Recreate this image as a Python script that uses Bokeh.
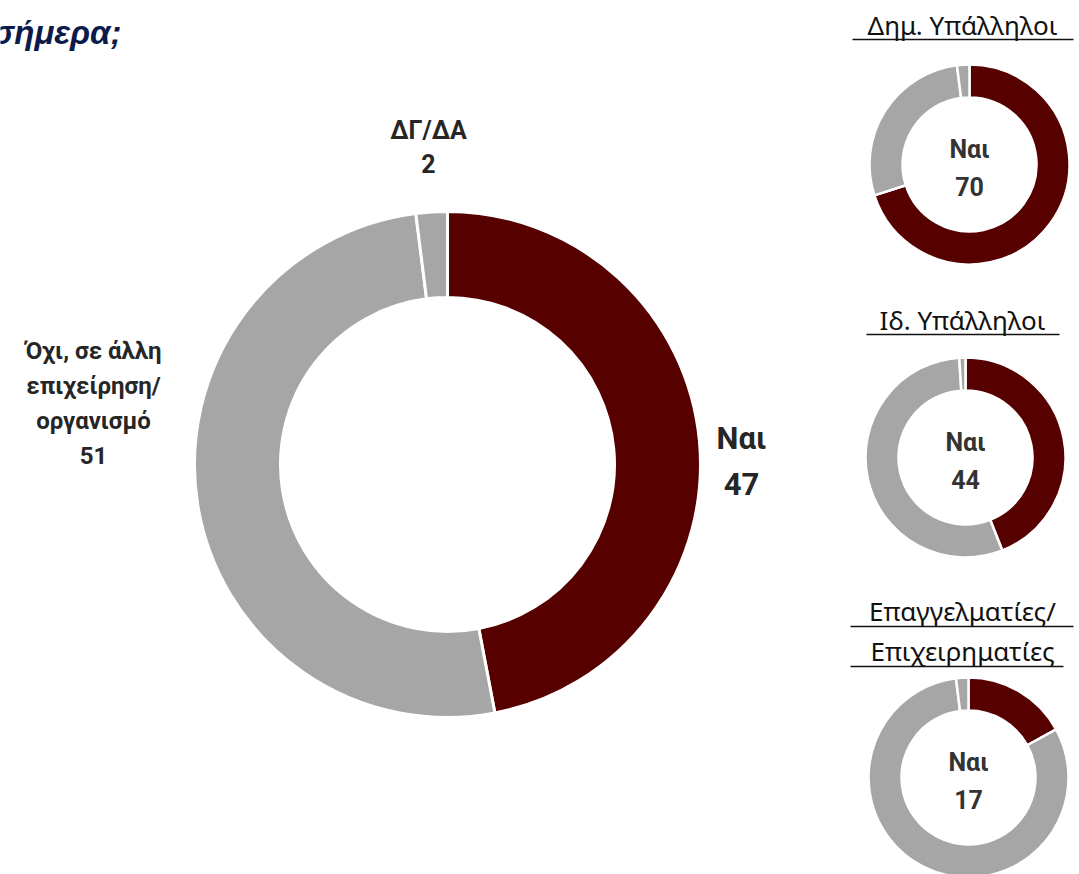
import math
from bokeh.plotting import figure
from bokeh.models import Range1d, ColumnDataSource
from bokeh.core.properties import value
from bokeh.embed import file_html
from bokeh.resources import INLINE

# ---------------- data ----------------
title_text = "σήμερα;"
categories = ["Ναι", "Όχι, σε άλλη\nεπιχείρηση/\nοργανισμό", "ΔΓ/ΔΑ"]
total_values = [47, 51, 2]
group_names = ["Δημ. Υπάλληλοι", "Ιδ. Υπάλληλοι", "Επαγγελματίες/\nΕπιχειρηματίες"]
group_yes = [70, 44, 17]
group_no = [28, 55, 81]
group_dkna = [2, 1, 2]
slice_colors = ["#560000", "#A6A6A6", "#A6A6A6"]

# ---------------- layout ----------------
W, H = 1079, 874
PAGE_H = 874
def Y(ry):
    return PAGE_H - ry

TEXT = "#262626"
NARROW = value("Roboto")
SUBFONT = value("Noto Sans")

p = figure(width=W, height=H, output_backend="svg", toolbar_location=None,
           x_range=Range1d(0, W), y_range=Range1d(PAGE_H - H, PAGE_H),
           min_border=0, outline_line_color=None)
p.axis.visible = False
p.grid.visible = False
p.background_fill_color = "white"
p.border_fill_color = "white"


def donut(vals, cx, cy, r_in, r_out, lw):
    tot = float(sum(vals))
    starts, ends = [], []
    cum = 0.0
    for v in vals:
        starts.append(math.pi / 2 - cum / tot * 2 * math.pi)
        cum += v
        ends.append(math.pi / 2 - cum / tot * 2 * math.pi)
    src = ColumnDataSource(dict(x=[cx] * len(vals), y=[cy] * len(vals),
                                start=starts, end=ends,
                                color=slice_colors[:len(vals)]))
    p.annular_wedge(x="x", y="y", inner_radius=r_in, outer_radius=r_out,
                    start_angle="start", end_angle="end", direction="clock",
                    fill_color="color", line_color="white", line_width=lw,
                    source=src)


# main donut
MCX, MCY = 447, Y(464)
donut(total_values, MCX, MCY, 167, 253, 3)

# main labels: (x, y-center, font size, line height)
main_lab_pos = [(741, 461, 31, 1.22), (93, 403, 24, 1.24), (428, 147, 25, 1.18)]
for cat, v, (lx, ly, fs, lh) in zip(categories, total_values, main_lab_pos):
    p.text(x=[lx], y=[Y(ly)], text=[f"{cat}\n{v}"], text_align="center",
           text_baseline="middle", text_font=NARROW, text_font_style="bold",
           text_font_size=f"{fs}px", text_color=TEXT, text_line_height=lh)

# small donuts
small_centers = [(969, 164), (965, 457), (968, 777)]
title_first_y = [24, 319, 610]
title_x = 962
title_gap = 40
underline_spans = [[(852, 1073, 39)], [(866, 1059, 334)],
                   [(850, 1073, 626), (850, 1063, 666)]]
for i in range(3):
    cx, cy = small_centers[i]
    donut([group_yes[i], group_no[i], group_dkna[i]], cx, Y(cy), 67, 100, 2.5)
    p.text(x=[cx], y=[Y(cy + 4)], text=[f"Ναι\n{group_yes[i]}"], text_align="center",
           text_baseline="middle", text_font=NARROW, text_font_style="bold",
           text_font_size="25px", text_color="#333333", text_line_height=1.3)
    for j, line in enumerate(group_names[i].split("\n")):
        p.text(x=[title_x], y=[Y(title_first_y[i] + j * title_gap)], text=[line],
               text_align="center", text_baseline="middle", text_font=SUBFONT,
               text_font_size="26px", text_color="#111111")
    for x0, x1, uy in underline_spans[i]:
        p.segment(x0=[x0], y0=[Y(uy)], x1=[x1], y1=[Y(uy)],
                  line_color="#111111", line_width=1.5)

# title fragment (left part of the title lies outside the picture)
p.text(x=[121], y=[Y(32)], text=[title_text], text_align="right",
       text_baseline="alphabetic", text_font=value("Liberation Sans"),
       text_font_style="bold italic", text_font_size="33px",
       text_color="#0D1B4B")

open("out.html", "w").write(file_html(p, INLINE))
